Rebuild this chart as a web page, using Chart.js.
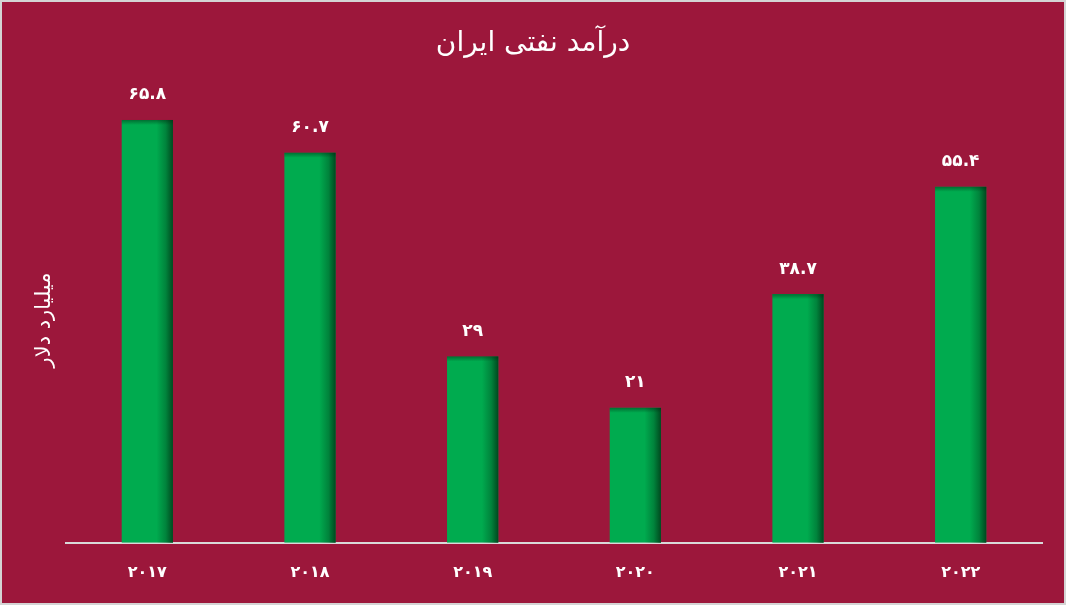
<!DOCTYPE html>
<html><head><meta charset="utf-8">
<script src="https://cdn.jsdelivr.net/npm/chart.js@4/dist/chart.umd.min.js"></script>
<style>
html,body{margin:0;padding:0;background:#d4d4d4;}
#wrap{position:absolute;left:2px;top:2px;width:1062px;height:601px;background:#9c173b;}
</style></head>
<body><div id="wrap"><canvas id="c"></canvas></div>
<script>
const categories = ['۲۰۱۷','۲۰۱۸','۲۰۱۹','۲۰۲۰','۲۰۲۱','۲۰۲۲'];
const revenue = [65.8, 60.7, 29, 21, 38.7, 55.4];
const valueLabels = ['۶۵.۸','۶۰.۷','۲۹','۲۱','۳۸.۷','۵۵.۴'];
const titleText = 'درآمد نفتی ایران';
const yTitleText = 'میلیارد دلار';

const FONT = '"DejaVu Sans", sans-serif';

const overlay = {
  id:'overlay',
  afterDatasetsDraw(chart){
    const c = chart.ctx;
    const meta = chart.getDatasetMeta(0);
    const bottom = chart.chartArea.bottom;
    c.save();
    meta.data.forEach(el=>{
      const w = el.width, x0 = el.x - w/2, x1 = el.x + w/2, h = bottom - el.y;
      const g = c.createLinearGradient(x0,0,x1,0);
      g.addColorStop(0,'rgba(0,40,15,0)');
      g.addColorStop(0.68,'rgba(0,40,15,0)');
      g.addColorStop(0.86,'rgba(0,40,15,0.3)');
      g.addColorStop(1,'rgba(0,40,15,0.75)');
      c.fillStyle = g;
      c.fillRect(x0, el.y, w, h);
      const t = c.createLinearGradient(0,el.y,0,el.y+5);
      t.addColorStop(0,'rgba(0,40,15,0.45)');
      t.addColorStop(1,'rgba(0,40,15,0)');
      c.fillStyle = t;
      c.fillRect(x0, el.y, w, 5);
    });
    c.fillStyle = '#ffffff';
    c.font = 'bold 17px ' + FONT;
    c.textAlign = 'center';
    c.textBaseline = 'middle';
    meta.data.forEach((el,i)=>{
      c.fillText(valueLabels[i], el.x, el.y - 25);
    });
    c.restore();
  },
  afterDraw(chart){
    const c = chart.ctx;
    c.save();
    c.fillStyle = '#ffffff';
    c.textAlign = 'center';
    c.textBaseline = 'middle';
    c.font = '28px ' + FONT;
    c.fillText(titleText, chart.width/2, 42);
    c.translate(43, 318);
    c.rotate(-Math.PI/2);
    c.font = '21px ' + FONT;
    c.fillText(yTitleText, 0, 0);
    c.restore();
  }
};

new Chart(document.getElementById('c'), {
  type:'bar',
  data:{
    labels: categories,
    datasets:[{
      data: revenue,
      backgroundColor: '#00ab4f',
      borderWidth:0,
      barPercentage:0.315,
      categoryPercentage:1
    }]
  },
  options:{
    responsive:true,
    maintainAspectRatio:false,
    animation:false,
    layout:{padding:{left:64,right:22,top:91,bottom:0}},
    plugins:{legend:{display:false},tooltip:{enabled:false},title:{display:false}},
    scales:{
      x:{
        grid:{display:false,drawTicks:false},
        border:{display:true,color:'#d9d9d9',width:2},
        ticks:{color:'#ffffff',font:{family:FONT,size:16,weight:'bold',lineHeight:1.2},padding:20.5}
      },
      y:{display:false,min:0,max:70}
    }
  },
  plugins:[overlay]
});
</script></body></html>
